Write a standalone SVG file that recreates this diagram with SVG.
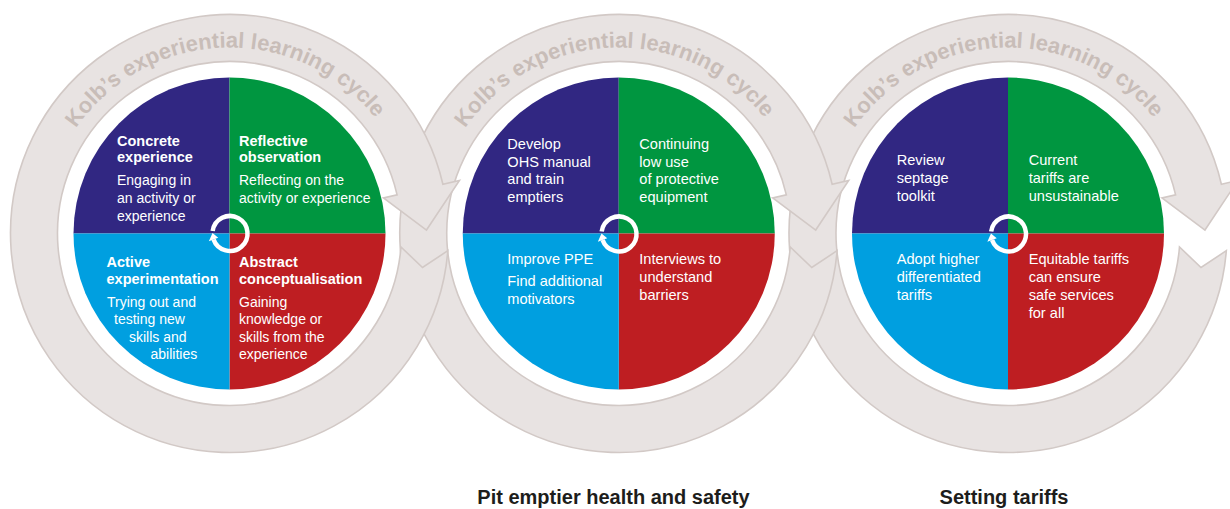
<svg xmlns="http://www.w3.org/2000/svg" width="1230" height="509" viewBox="0 0 1230 509">
<style>
.ring{fill:#e8e3e2;stroke:#d2c9c6;stroke-width:1.6;stroke-linejoin:miter}
.rt{font-family:"Liberation Sans",Arial,sans-serif;font-weight:bold;font-size:22px;fill:#c8bdb8}
.t{font-family:"Liberation Sans",Arial,sans-serif;font-size:14px;fill:#fff}
.t2{font-family:"Liberation Sans",Arial,sans-serif;font-size:14.6px;fill:#fff}
.b{font-weight:bold;font-size:14.5px}
.q1{fill:#312782}.q2{fill:#009640}.q3{fill:#be1e22}.q4{fill:#009fe0}
.lbl{font-family:"Liberation Sans",Arial,sans-serif;font-weight:bold;font-size:20px;fill:#1d1d1b;text-anchor:middle}
</style>
<defs>
<path id="arc" d="M-186 0 A186 186 0 0 1 186 0"/>
<path id="ringshape" d="M218.33 17.18 L193.02 34.04 L171.47 13.5 A172 172 0 1 1 167.59 -38.69 L153.95 -35.54 L196.97 -3.44 L229.95 -53.09 L213.39 -49.26 A219 219 0 1 0 218.33 17.18 Z"/>
<g id="pie">
<path class="q1" d="M0 0 L-156 0 A156 156 0 0 1 0 -156 Z"/>
<path class="q2" d="M0 0 L0 -156 A156 156 0 0 1 156 0 Z"/>
<path class="q3" d="M0 0 L156 0 A156 156 0 0 1 0 156 Z"/>
<path class="q4" d="M0 0 L0 156 A156 156 0 0 1 -156 0 Z"/>
</g>
<g id="spin">
<path d="M-17.33 -2.44 A17.5 17.5 0 1 1 -16.44 5.99" fill="none" stroke="#fff" stroke-width="4.5"/>
<path d="M-11.75 4.28 L-21.14 7.7 L-17.49 -0.61 Z" fill="#fff"/>
</g>
</defs>

<g id="connectors">
<g id="cycle-arrow-3" transform="translate(1008 233.5)">
<use href="#ringshape" class="ring"/>
<text class="rt"><textPath href="#arc" startOffset="48.9%" text-anchor="middle">Kolb’s experiential learning cycle</textPath></text>
</g>
<g id="cycle-arrow-2" transform="translate(618.75 233.5)">
<use href="#ringshape" class="ring"/>
<text class="rt"><textPath href="#arc" startOffset="48.9%" text-anchor="middle">Kolb’s experiential learning cycle</textPath></text>
</g>
<g id="cycle-arrow-1" transform="translate(229.5 233.5)">
<use href="#ringshape" class="ring"/>
<text class="rt"><textPath href="#arc" startOffset="48.9%" text-anchor="middle">Kolb’s experiential learning cycle</textPath></text>
</g>
</g>

<g id="cycle-1">
<use href="#pie" x="229.5" y="233.5"/>
<use href="#spin" x="230" y="233.5"/>
<text class="t"><tspan class="b" x="117" y="146">Concrete</tspan><tspan class="b" x="117" y="162">experience</tspan><tspan x="117" y="185">Engaging in</tspan><tspan x="117" y="202.7">an activity or</tspan><tspan x="117" y="220.5">experience</tspan></text>
<text class="t"><tspan class="b" x="239" y="146">Reflective</tspan><tspan class="b" x="239" y="162">observation</tspan><tspan x="239" y="185">Reflecting on the</tspan><tspan x="239" y="202.7">activity or experience</tspan></text>
<text class="t"><tspan class="b" x="106.5" y="267">Active</tspan><tspan class="b" x="106.5" y="284">experimentation</tspan><tspan x="107" y="306.7">Trying out and</tspan><tspan x="114" y="324">testing new</tspan><tspan x="129" y="341.7">skills and</tspan><tspan x="150.5" y="359.3">abilities</tspan></text>
<text class="t"><tspan class="b" x="239" y="267">Abstract</tspan><tspan class="b" x="239" y="284">conceptualisation</tspan><tspan x="239" y="306.7">Gaining</tspan><tspan x="239" y="324">knowledge or</tspan><tspan x="239" y="341.7">skills from the</tspan><tspan x="239" y="359.3">experience</tspan></text>
</g>

<g id="cycle-2">
<use href="#pie" x="618.75" y="233.5"/>
<use href="#spin" x="619" y="234"/>
<text class="t2"><tspan x="507.3" y="149">Develop</tspan><tspan x="507.3" y="166.7">OHS manual</tspan><tspan x="507.3" y="184.3">and train</tspan><tspan x="507.3" y="201.7">emptiers</tspan></text>
<text class="t2"><tspan x="639.3" y="149">Continuing</tspan><tspan x="639.3" y="166.7">low use</tspan><tspan x="639.3" y="184.3">of protective</tspan><tspan x="639.3" y="201.7">equipment</tspan></text>
<text class="t2"><tspan x="507.3" y="264.3">Improve PPE</tspan><tspan x="507.3" y="286">Find additional</tspan><tspan x="507.3" y="304">motivators</tspan></text>
<text class="t2"><tspan x="639.3" y="264.3">Interviews to</tspan><tspan x="639.3" y="282">understand</tspan><tspan x="639.3" y="300">barriers</tspan></text>
<text class="lbl" x="613.5" y="504">Pit emptier health and safety</text>
</g>

<g id="cycle-3">
<use href="#pie" x="1008" y="233.5"/>
<use href="#spin" x="1008.5" y="234"/>
<text class="t2"><tspan x="896.7" y="165">Review</tspan><tspan x="896.7" y="183.3">septage</tspan><tspan x="896.7" y="201">toolkit</tspan></text>
<text class="t2"><tspan x="1028.7" y="165">Current</tspan><tspan x="1028.7" y="183.3">tariffs are</tspan><tspan x="1028.7" y="201">unsustainable</tspan></text>
<text class="t2"><tspan x="896.7" y="264.3">Adopt higher</tspan><tspan x="896.7" y="282">differentiated</tspan><tspan x="896.7" y="300">tariffs</tspan></text>
<text class="t2"><tspan x="1028.7" y="264.3">Equitable tariffs</tspan><tspan x="1028.7" y="282">can ensure</tspan><tspan x="1028.7" y="300">safe services</tspan><tspan x="1028.7" y="318">for all</tspan></text>
<text class="lbl" x="1004" y="504">Setting tariffs</text>
</g>
</svg>
